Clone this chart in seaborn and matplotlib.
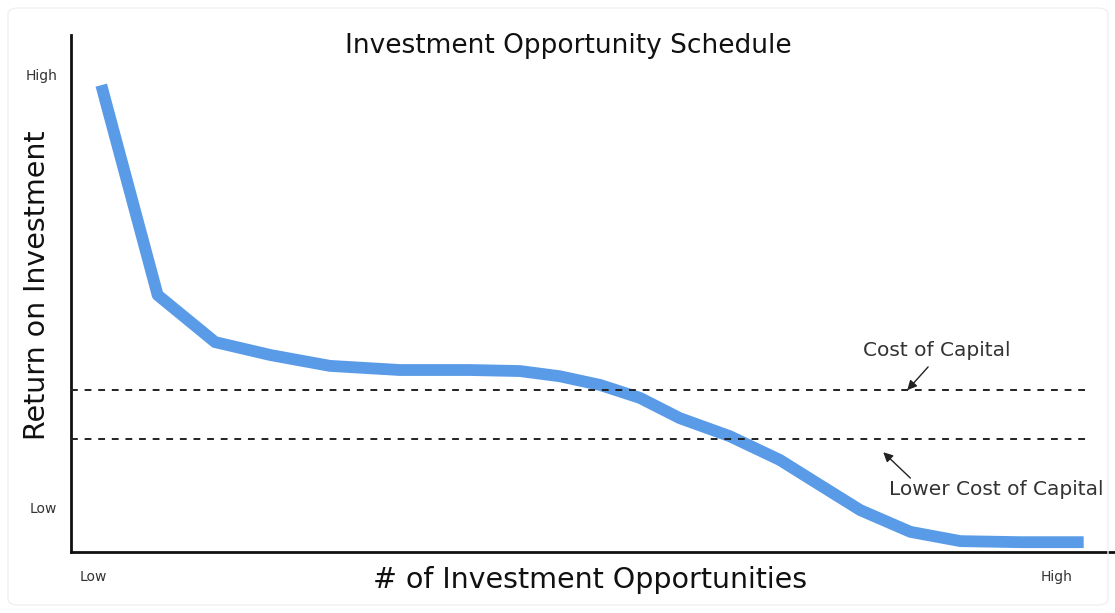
import matplotlib
matplotlib.use("Agg")
import matplotlib.pyplot as plt
from matplotlib.patches import FancyBboxPatch
import seaborn as sns
import pandas as pd

# ---- data (axis units 0-100) ----
opportunities = [2.9, 8.3, 13.8, 19.1, 24.8, 31.5, 38.2, 43.0, 46.8, 50.7, 54.5,
                 58.3, 63.1, 67.9, 71.7, 75.6, 80.4, 85.2, 90.9, 97.0]
returns = [90.3, 49.7, 40.6, 38.1, 36.0, 35.2, 35.2, 35.0, 34.0, 32.3, 29.8,
           25.9, 22.4, 17.8, 13.0, 8.1, 3.9, 2.1, 1.9, 1.9]
cost_of_capital = 31.3
lower_cost_of_capital = 21.9
x_tick_pos = [2.1, 94.4]
x_tick_labels = ["Low", "High"]
y_tick_pos = [8.7, 92.3]
y_tick_labels = ["Low", "High"]

df = pd.DataFrame({"x": opportunities, "y": returns})

sns.set_style("white")
plt.rcParams["font.family"] = ["DejaVu Sans"]

fig = plt.figure(figsize=(11.15, 6.13), dpi=100)
fig.patches.append(FancyBboxPatch((8 / 1115, 8 / 613), 1100 / 1115, 597 / 613,
                                  boxstyle="round,pad=0,rounding_size=0.01",
                                  transform=fig.transFigure, facecolor="none",
                                  edgecolor="#f0f0f0", lw=1.0))
ax = fig.add_axes([71 / 1115, 1 - 552 / 613, 1044 / 1115, 517 / 613])
ax.patch.set_alpha(0)

sns.lineplot(data=df, x="x", y="y", ax=ax, color="#5A9BE8", linewidth=8.5,
             solid_capstyle="butt", solid_joinstyle="round", zorder=2)

ax.plot([0, 97.3], [cost_of_capital] * 2, ls=(0, (3.5, 3.5)), color="#222222", lw=1.4, zorder=3)
ax.plot([0, 97.3], [lower_cost_of_capital] * 2, ls=(0, (3.5, 3.5)), color="#222222", lw=1.4, zorder=3)

arrow = dict(arrowstyle="-|>", color="#222222", lw=1.0, mutation_scale=14, shrinkA=0, shrinkB=0)
ax.annotate("", xy=(80.1, 31.3), xytext=(82.1, 35.8), arrowprops=arrow, zorder=4)
ax.annotate("", xy=(77.8, 19.3), xytext=(80.4, 14.3), arrowprops=arrow, zorder=4)
ax.text(82.9, 38.9, "Cost of Capital", ha="center", va="center", fontsize=14.5, color="#333333")
ax.text(88.6, 12.0, "Lower Cost of Capital", ha="center", va="center", fontsize=14.5, color="#333333")

ax.set_xlim(0, 100)
ax.set_ylim(0, 100)
ax.set_xticks(x_tick_pos, x_tick_labels)
ax.set_yticks(y_tick_pos, y_tick_labels)
ax.tick_params(axis="both", length=0, labelsize=10, colors="#333333")
ax.tick_params(axis="x", pad=13)
ax.tick_params(axis="y", pad=10)

ax.set_xlabel("# of Investment Opportunities", fontsize=20.5, color="#111111")
ax.xaxis.label.set_va("center")
ax.xaxis.set_label_coords(0.497, -0.054)
ax.set_ylabel("Return on Investment", fontsize=20.5, color="#111111")
ax.yaxis.label.set_va("center")
ax.yaxis.set_label_coords(-0.0326, 0.515)

for side in ["top", "right"]:
    ax.spines[side].set_visible(False)
for side in ["left", "bottom"]:
    ax.spines[side].set_color("#111111")
    ax.spines[side].set_linewidth(2.0)

fig.text(568 / 1115, 1 - 46 / 613, "Investment Opportunity Schedule", ha="center", va="center",
         fontsize=19, color="#111111")

fig.savefig("out.png", dpi=100)
